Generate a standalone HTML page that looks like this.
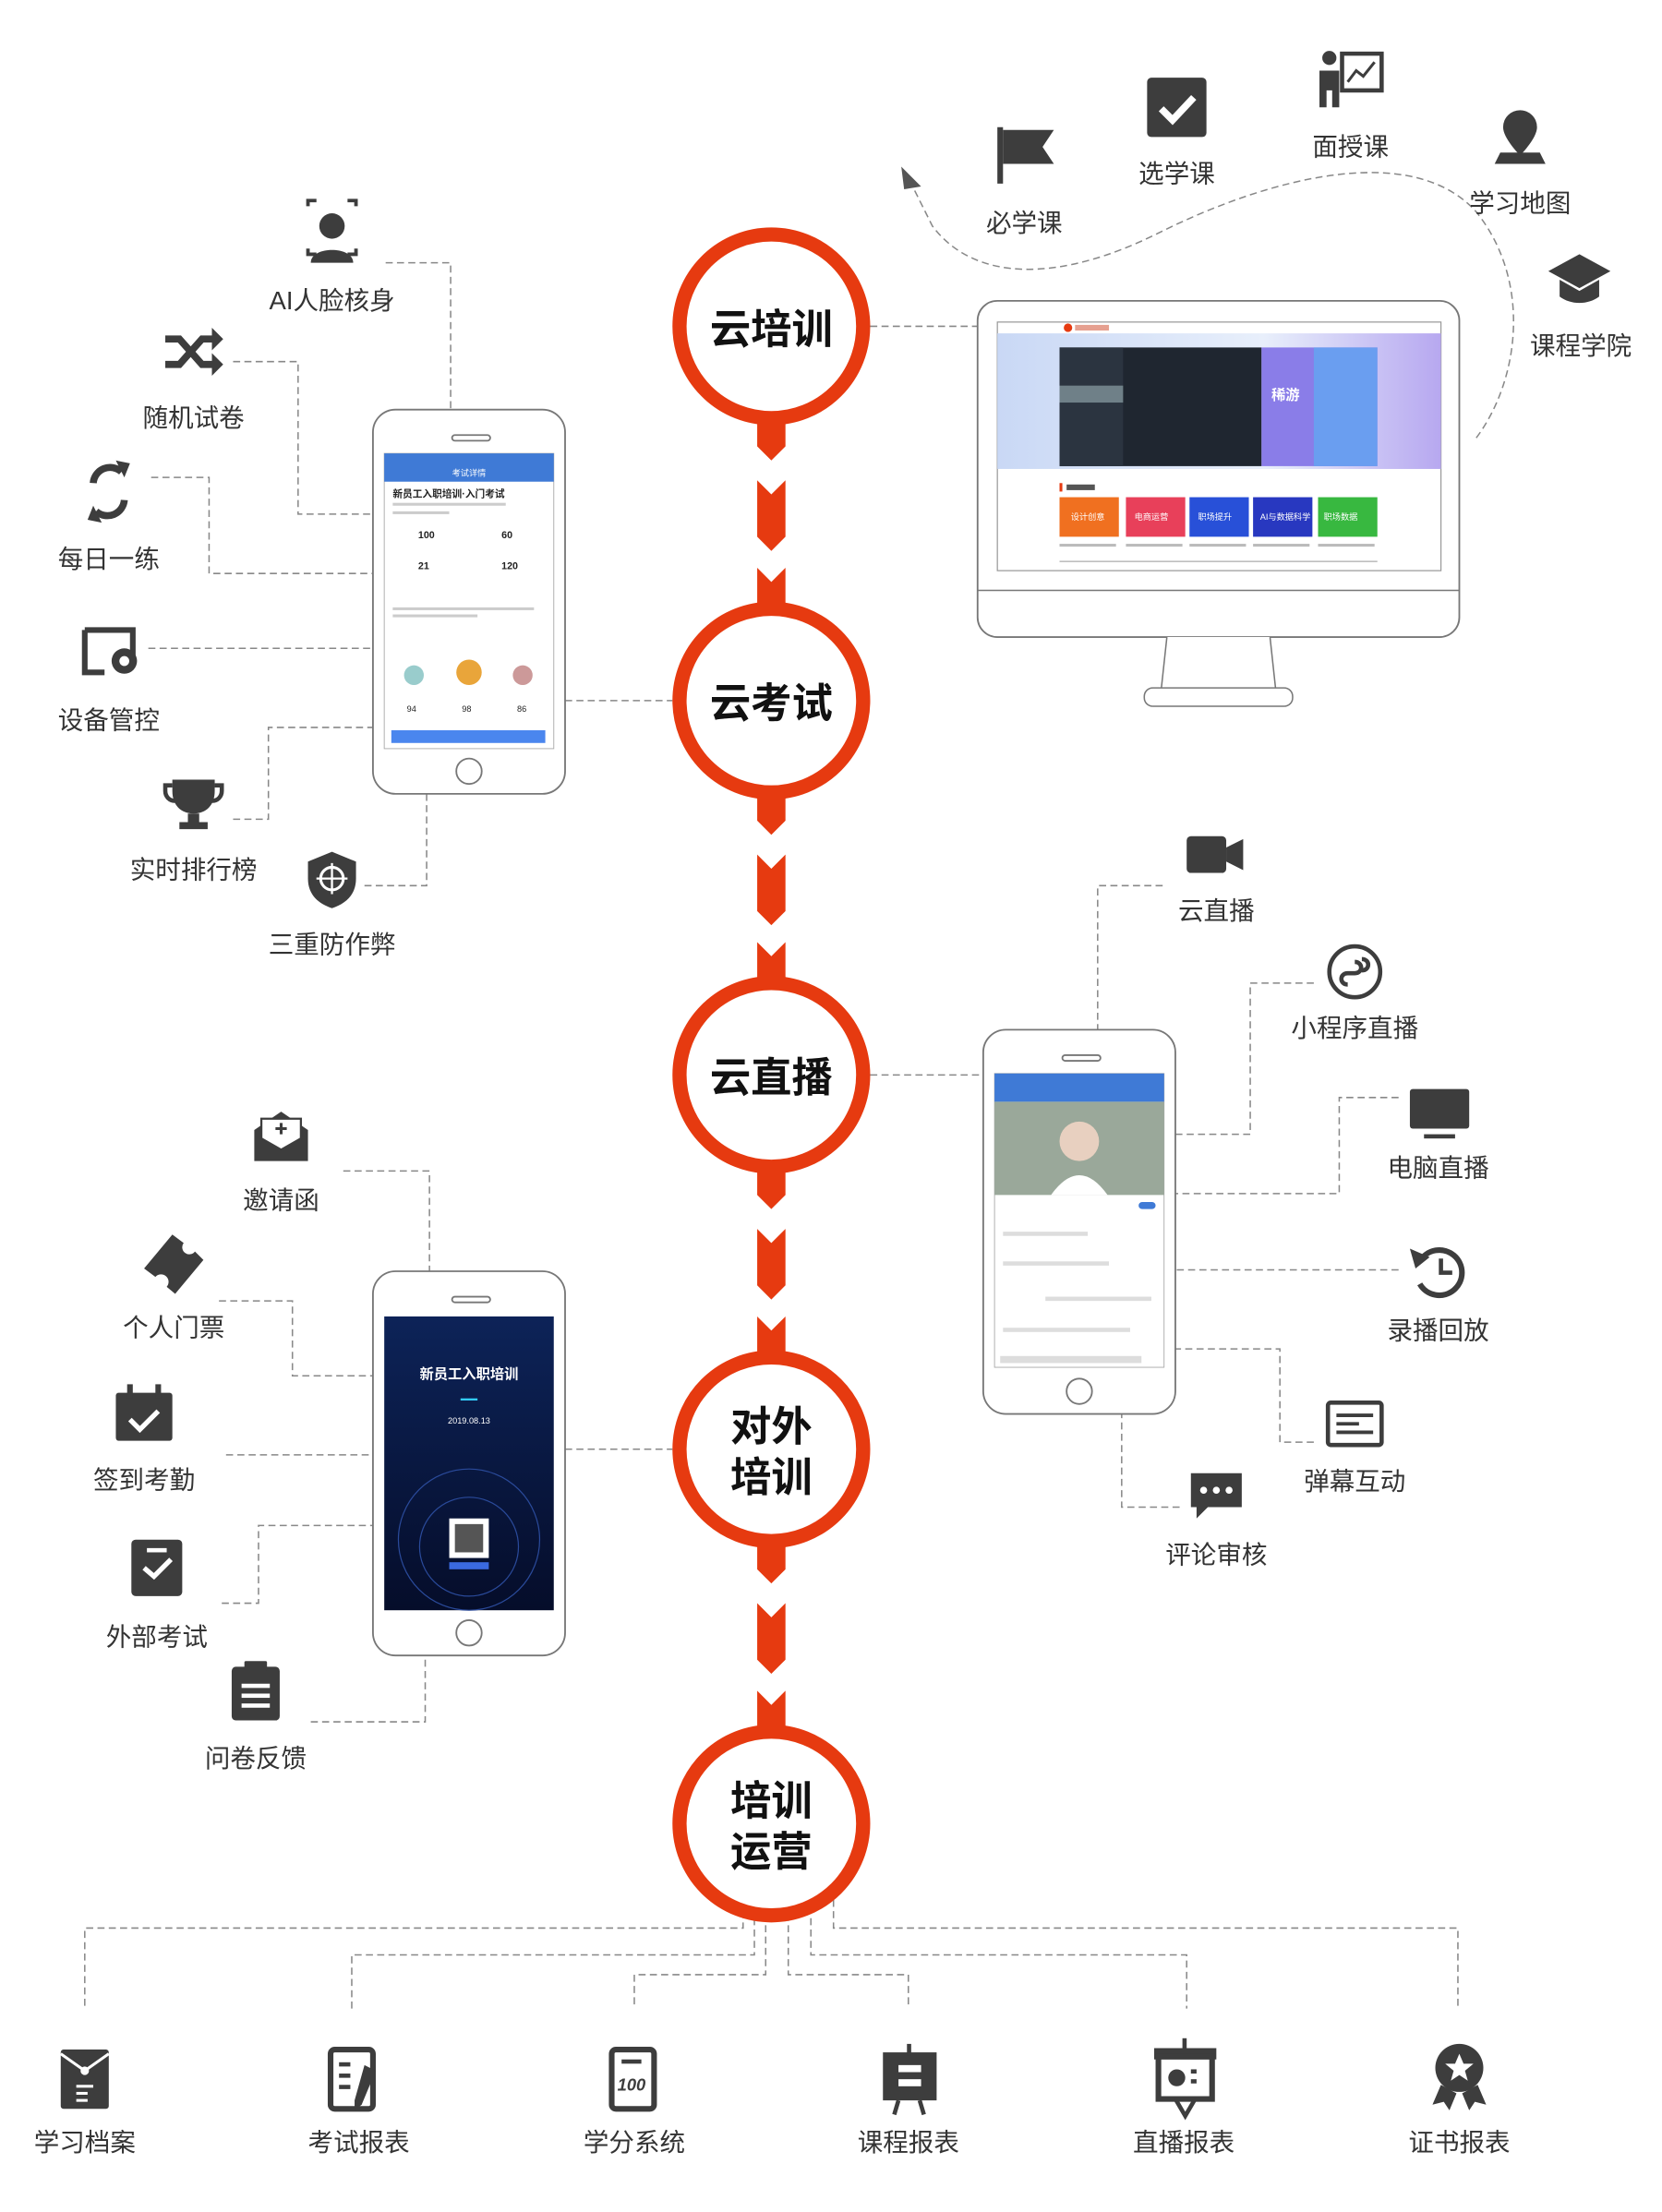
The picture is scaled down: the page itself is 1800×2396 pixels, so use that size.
<!DOCTYPE html>
<html><head><meta charset="utf-8">
<style>
html,body{margin:0;padding:0;background:#fff;}
#root{position:relative;width:1800px;height:2396px;overflow:hidden;background:#fff;}
#s{position:absolute;left:0;top:0;width:1184px;height:1576px;transform:scale(1.530);transform-origin:0 0;font-family:"Liberation Sans","Noto Sans CJK SC",sans-serif;}
.l{position:absolute;font-size:18px;color:#333;white-space:nowrap;transform:translateX(-50%);line-height:20px;}
.c{position:absolute;font-weight:bold;font-size:29px;color:#111;text-align:center;line-height:36px;transform:translate(-50%,-50%);font-family:"Noto Sans CJK SC",sans-serif;}
</style></head><body><div id="root"><div id="s">
<svg width="1184" height="1576" style="position:absolute;left:0;top:0" xmlns="http://www.w3.org/2000/svg">
<g fill="none" stroke="#888" stroke-width="1" stroke-dasharray="5,3">
<path d="M616 231H692"/><path d="M400 496H476"/><path d="M616 761H696"/><path d="M400 1026H476"/>
<path d="M273 186H319V290"/><path d="M165 256H211V364H264"/><path d="M107 338H148V406H264"/><path d="M105 459H264"/><path d="M165 580H190V515H264"/><path d="M258 627H302V562"/>
<path d="M823 627H777V729"/><path d="M930 696H885V803H832"/><path d="M990 777H948V845H832"/><path d="M990 899H832"/><path d="M930 1021H906V955H832"/><path d="M835 1067H794V1001"/>
<path d="M243 829H304V900"/><path d="M155 921H207V974H264"/><path d="M160 1030H264"/><path d="M157 1135H183V1080H264"/><path d="M220 1219H301V1172"/>
<path d="M526 1345V1365H60V1422"/><path d="M590 1345V1365H1032V1422"/>
<path d="M534 1350V1384H249V1422"/><path d="M574 1350V1384H840V1422"/>
<path d="M542 1355V1398H449V1422"/><path d="M558 1355V1398H643V1422"/>
<path d="M1045 310C1075 270 1085 200 1045 150C1000 100 900 125 820 165C750 200 690 200 660 160L645 130"/>
</g>
<polygon points="638,118 652,132 640,134" fill="#555"/>
<g fill="#e63a10">
<polygon points="536,296 556,296 556,316 546,326 536,316"/><polygon points="536,340 546,350 556,340 556,380 546,390 536,380"/><polygon points="536,402 546,412 556,402 556,432 536,432"/>
<polygon points="536,561 556,561 556,581 546,591 536,581"/><polygon points="536,605 546,615 556,605 556,645 546,655 536,645"/><polygon points="536,667 546,677 556,667 556,697 536,697"/>
<polygon points="536,826 556,826 556,846 546,856 536,846"/><polygon points="536,870 546,880 556,870 556,910 546,920 536,910"/><polygon points="536,932 546,942 556,932 556,962 536,962"/>
<polygon points="536,1091 556,1091 556,1111 546,1121 536,1111"/><polygon points="536,1135 546,1145 556,1135 556,1175 546,1185 536,1175"/><polygon points="536,1197 546,1207 556,1197 556,1227 536,1227"/>
</g>
<g fill="#fff" stroke="#e63a10" stroke-width="10">
<circle cx="546" cy="231" r="65"/><circle cx="546" cy="496" r="65"/><circle cx="546" cy="761" r="65"/><circle cx="546" cy="1026" r="65"/><circle cx="546" cy="1291" r="65"/>
</g>
<rect x="692" y="213" width="341" height="238" rx="14" fill="#fff" stroke="#777" stroke-width="1.2"/>
<line x1="692" y1="418" x2="1033" y2="418" stroke="#777"/>
<rect x="706" y="228" width="314" height="176" fill="#fff" stroke="#999" stroke-width=".8"/>
<path d="M826 451L822 488H903L899 451" fill="#fff" stroke="#777"/>
<rect x="810" y="487" width="105" height="13" rx="6" fill="#fff" stroke="#777"/>
<defs><linearGradient id="bn" x1="0" y1="0" x2="1" y2="0"><stop offset="0" stop-color="#c9d8f5"/><stop offset=".6" stop-color="#e8effb"/><stop offset="1" stop-color="#b7a8f0"/></linearGradient>
<linearGradient id="dk" x1="0" y1="0" x2="0" y2="1"><stop offset="0" stop-color="#0d2358"/><stop offset="1" stop-color="#050d2a"/></linearGradient></defs>
<rect x="706" y="236" width="314" height="96" fill="url(#bn)"/>
<rect x="750" y="246" width="143" height="84" fill="#1f2630"/><rect x="750" y="246" width="45" height="84" fill="#2b3440"/><rect x="750" y="273" width="45" height="12" fill="#6f8088"/>
<rect x="893" y="246" width="82" height="84" fill="#8a7de8"/><rect x="930" y="246" width="45" height="84" fill="#6a9ef0"/>
<text x="900" y="283" font-size="10" fill="#fff" font-weight="bold">稀游</text>
<circle cx="756" cy="232" r="3" fill="#e63a10"/><rect x="761" y="230" width="24" height="4" fill="#e6a090"/>
<rect x="750" y="342" width="2" height="6" fill="#e63a10"/><rect x="755" y="343" width="20" height="4" fill="#555"/>
<rect x="750" y="352" width="42" height="28" fill="#f07020"/><rect x="797" y="352" width="42" height="28" fill="#e8405a"/><rect x="842" y="352" width="42" height="28" fill="#2850d8"/><rect x="887" y="352" width="42" height="28" fill="#2838c0"/><rect x="933" y="352" width="42" height="28" fill="#38b840"/>
<g fill="#fff" font-size="6"><text x="758" y="368">设计创意</text><text x="803" y="368">电商运营</text><text x="848" y="368">职场提升</text><text x="892" y="368">AI与数据科学</text><text x="937" y="368">职场数据</text></g>
<g fill="#bbb"><rect x="750" y="385" width="40" height="2"/><rect x="797" y="385" width="40" height="2"/><rect x="842" y="385" width="40" height="2"/><rect x="887" y="385" width="40" height="2"/><rect x="933" y="385" width="40" height="2"/><rect x="750" y="397" width="225" height="1"/></g>
<g fill="#fff" stroke="#777" stroke-width="1.2">
<rect x="264" y="290" width="136" height="272" rx="16"/><rect x="696" y="729" width="136" height="272" rx="16"/><rect x="264" y="900" width="136" height="272" rx="16"/>
<circle cx="332" cy="546" r="9"/><circle cx="764" cy="985" r="9"/><circle cx="332" cy="1156" r="9"/>
<rect x="320" y="308" width="27" height="4" rx="2"/><rect x="752" y="747" width="27" height="4" rx="2"/><rect x="320" y="918" width="27" height="4" rx="2"/>
</g>
<rect x="272" y="321" width="120" height="209" fill="#fff" stroke="#aaa" stroke-width=".6"/>
<rect x="272" y="321" width="120" height="20" fill="#3f7ad6"/>
<text x="320" y="337" font-size="6" fill="#fff">考试详情</text>
<text x="278" y="352" font-size="7" fill="#222" font-weight="bold">新员工入职培训·入门考试</text>
<g fill="#ccc"><rect x="278" y="356" width="80" height="2"/><rect x="278" y="362" width="40" height="2"/></g>
<g font-size="7" fill="#222" font-weight="bold"><text x="296" y="381">100</text><text x="355" y="381">60</text><text x="296" y="403">21</text><text x="355" y="403">120</text></g>
<g fill="#ccc"><rect x="278" y="430" width="100" height="2"/><rect x="278" y="435" width="60" height="2"/></g>
<circle cx="293" cy="478" r="7" fill="#9cc"/><circle cx="332" cy="476" r="9" fill="#e9a53a"/><circle cx="370" cy="478" r="7" fill="#c99"/>
<g font-size="6" fill="#222"><text x="288" y="504">94</text><text x="327" y="504">98</text><text x="366" y="504">86</text></g>
<rect x="277" y="517" width="109" height="9" fill="#4a86ee"/>
<rect x="704" y="760" width="120" height="208" fill="#fff" stroke="#aaa" stroke-width=".6"/>
<rect x="704" y="760" width="120" height="20" fill="#3f7ad6"/>
<rect x="704" y="780" width="120" height="66" fill="#9aa89a"/><circle cx="764" cy="808" r="14" fill="#e8d0c0"/><path d="M744 846Q764 818 784 846Z" fill="#fff"/>
<g fill="#ddd"><rect x="710" y="872" width="60" height="3"/><rect x="710" y="893" width="75" height="3"/><rect x="740" y="918" width="75" height="3"/><rect x="710" y="940" width="90" height="3"/><rect x="708" y="960" width="100" height="5"/></g>
<rect x="806" y="851" width="12" height="5" rx="2.5" fill="#3f7ad6"/>
<rect x="272" y="932" width="120" height="208" fill="url(#dk)"/>
<circle cx="332" cy="1090" r="50" fill="none" stroke="#2a4a9a" stroke-width=".8"/><circle cx="332" cy="1095" r="35" fill="none" stroke="#2a4a9a" stroke-width=".8"/>
<text x="332" y="976" font-size="10" fill="#fff" text-anchor="middle" font-weight="bold">新员工入职培训</text>
<text x="332" y="1008" font-size="6" fill="#fff" text-anchor="middle">2019.08.13</text>
<rect x="326" y="990" width="12" height="1.5" fill="#3cf"/>
<rect x="318" y="1075" width="28" height="28" fill="#fff"/><rect x="322" y="1079" width="20" height="20" fill="#555"/>
<rect x="318" y="1106" width="28" height="5" fill="#3a6ae0"/>
<g fill="#3d3d3d">
<path d="M706 90h4v40h-4z"/><path d="M710 92h36l-8 12 8 12h-36z"/>
<rect x="812" y="55" width="42" height="42" rx="3"/>
<circle cx="941" cy="41" r="5"/><path d="M934 50h14v26h-5v-12h-4v12h-5z"/><path d="M950 38h28v26h-28z" fill="none" stroke="#3d3d3d" stroke-width="3"/><path d="M954 58l6-8 5 4 8-10" fill="none" stroke="#3d3d3d" stroke-width="2"/>
<path d="M1076 78a12 12 0 0 1 12 12c0 8-12 20-12 20s-12-12-12-20a12 12 0 0 1 12-12z"/><path d="M1058 116h36l-4-8h-28z"/>
<path d="M1096 192l22-12 22 12-22 12z"/><path d="M1104 198v12c8 6 20 6 28 0v-12l-14 8z"/>
<circle cx="235" cy="160" r="9"/><path d="M220 186c0-12 30-12 30 0z"/><path d="M218 146v-4h6M252 146v-4h-6M218 176v4h6M252 176v4h-6" fill="none" stroke="#3d3d3d" stroke-width="2.5"/>
<path d="M117 240h10l16 18h10M117 258h10l16-18h10" fill="none" stroke="#3d3d3d" stroke-width="5"/><path d="M150 232l8 8-8 8zM150 250l8 8-8 8z"/>
<path d="M66 342a12 12 0 0 1 20-8M88 354a12 12 0 0 1-20 8" fill="none" stroke="#3d3d3d" stroke-width="5"/><path d="M82 326l10 2-4 10zM72 370l-10-2 4-10z"/>
<path d="M60 446h34v22M60 446v30h14" fill="none" stroke="#3d3d3d" stroke-width="4"/><circle cx="88" cy="468" r="9"/><circle cx="88" cy="468" r="3.5" fill="#fff"/>
<path d="M122 552h30v8c0 10-6 16-15 16s-15-6-15-16z"/><path d="M133 576h8v6h6v5h-20v-5h6z"/><path d="M122 556h-5v4c0 4 3 7 7 7M152 556h5v4c0 4-3 7-7 7" fill="none" stroke="#3d3d3d" stroke-width="3"/>
<path d="M235 603l17 7v12c0 12-8 18-17 21-9-3-17-9-17-21v-12z"/><circle cx="235" cy="622" r="8" fill="none" stroke="#fff" stroke-width="2"/><path d="M224 622h22M235 611v22" stroke="#fff" stroke-width="1.5"/>
<rect x="840" y="592" width="28" height="26" rx="3"/><path d="M868 600l12-6v22l-12-6z"/>
<circle cx="959" cy="688" r="18" fill="none" stroke="#3d3d3d" stroke-width="3"/><path d="M954 697c-6 0-6-8 0-8h5c6 0 6-8 0-8M964 679c6 0 6 8 0 8" fill="none" stroke="#3d3d3d" stroke-width="3"/>
<rect x="998" y="771" width="42" height="28" rx="2"/><rect x="1008" y="803" width="22" height="3"/>
<path d="M1005 893a16 16 0 1 1 0 16" fill="none" stroke="#3d3d3d" stroke-width="4"/><path d="M998 884l4 14 10-8z"/><path d="M1020 891v10h8" fill="none" stroke="#3d3d3d" stroke-width="3"/>
<rect x="940" y="993" width="38" height="30" rx="2" fill="none" stroke="#3d3d3d" stroke-width="3"/><path d="M946 1002h26M946 1008h16M946 1014h26" stroke="#3d3d3d" stroke-width="2.5"/>
<path d="M843 1043h36v24h-24l-8 8v-8h-4z"/><circle cx="852" cy="1055" r="2.5" fill="#fff"/><circle cx="861" cy="1055" r="2.5" fill="#fff"/><circle cx="870" cy="1055" r="2.5" fill="#fff"/>
<path d="M180 800l19-13 19 13v22h-38z"/><path d="M185 806v-14h28v14l-14 8z" fill="#fff" stroke="#3d3d3d" stroke-width="1.5"/><path d="M199 795v8M195 799h8" stroke="#3d3d3d" stroke-width="2"/>
<path d="M102 898l20-24 8 6a5 5 0 0 0 8 6l6 6-20 24-6-5a5 5 0 0 0-8-7z"/>
<rect x="82" y="986" width="40" height="34" rx="2"/><rect x="90" y="980" width="4" height="10"/><rect x="110" y="980" width="4" height="10"/><path d="M92 1005l7 7 13-13" fill="none" stroke="#fff" stroke-width="3.5"/>
<rect x="93" y="1090" width="36" height="40" rx="3"/><path d="M102 1110l7 6 12-12" fill="none" stroke="#fff" stroke-width="3.5"/><rect x="104" y="1096" width="14" height="3" fill="#fff"/>
<rect x="164" y="1180" width="34" height="38" rx="3"/><rect x="173" y="1176" width="16" height="7" rx="1"/><g fill="#fff"><rect x="171" y="1192" width="20" height="3"/><rect x="171" y="1199" width="20" height="3"/><rect x="171" y="1206" width="20" height="3"/></g>
<rect x="43" y="1451" width="34" height="42" rx="2"/><path d="M43 1454l17 12 17-12" fill="none" stroke="#fff" stroke-width="2"/><circle cx="60" cy="1466" r="3" fill="#fff"/><g fill="#fff"><rect x="54" y="1476" width="12" height="2"/><rect x="54" y="1481" width="8" height="2"/><rect x="54" y="1486" width="8" height="2"/></g>
<rect x="234" y="1451" width="30" height="42" rx="3" fill="none" stroke="#3d3d3d" stroke-width="4"/><g><rect x="240" y="1460" width="8" height="3"/><rect x="240" y="1468" width="8" height="3"/><rect x="240" y="1476" width="8" height="3"/></g><path d="M258 1462l8 4-10 24-5 4 0-7z"/>
<rect x="433" y="1451" width="30" height="42" rx="3" fill="none" stroke="#3d3d3d" stroke-width="4"/><rect x="440" y="1458" width="14" height="3"/><text x="437" y="1480" font-size="12" font-style="italic" font-weight="bold" fill="#3d3d3d">100</text>
<rect x="625" y="1453" width="38" height="34"/><rect x="642" y="1447" width="3" height="8"/><g fill="#fff"><rect x="636" y="1462" width="16" height="5"/><rect x="636" y="1472" width="16" height="5"/></g><path d="M636 1487l-3 10M651 1487l3 10" stroke="#3d3d3d" stroke-width="3"/>
<rect x="817" y="1450" width="44" height="8"/><rect x="837" y="1443" width="3" height="8"/><rect x="820" y="1456" width="38" height="30" fill="none" stroke="#3d3d3d" stroke-width="4"/><circle cx="833" cy="1471" r="6"/><g><rect x="843" y="1465" width="4" height="3"/><rect x="843" y="1472" width="4" height="3"/></g><path d="M832 1486l7 12 7-12" fill="none" stroke="#3d3d3d" stroke-width="3"/>
<circle cx="1033" cy="1464" r="17"/><path d="M1033 1454l3 7h7l-6 5 2 7-6-4-6 4 2-7-6-5h7z" fill="#fff"/><path d="M1020 1476l-6 14 8-2 4 6 5-12zM1046 1476l6 14-8-2-4 6-5-12z"/>
</g>
<path d="M822 77l8 8 15-16" fill="none" stroke="#fff" stroke-width="5"/>
</svg>
<div class="c" style="left:546px;top:231px">云培训</div>
<div class="c" style="left:546px;top:496px">云考试</div>
<div class="c" style="left:546px;top:761px">云直播</div>
<div class="c" style="left:546px;top:1026px">对外<br>培训</div>
<div class="c" style="left:546px;top:1291px">培训<br>运营</div>
<div class="l" style="left:725px;top:148px">必学课</div>
<div class="l" style="left:833px;top:113px">选学课</div>
<div class="l" style="left:956px;top:94px">面授课</div>
<div class="l" style="left:1076px;top:134px">学习地图</div>
<div class="l" style="left:1119px;top:235px">课程学院</div>
<div class="l" style="left:235px;top:203px">AI人脸核身</div>
<div class="l" style="left:137px;top:286px">随机试卷</div>
<div class="l" style="left:77px;top:386px">每日一练</div>
<div class="l" style="left:77px;top:500px">设备管控</div>
<div class="l" style="left:137px;top:606px">实时排行榜</div>
<div class="l" style="left:235px;top:659px">三重防作弊</div>
<div class="l" style="left:861px;top:635px">云直播</div>
<div class="l" style="left:959px;top:718px">小程序直播</div>
<div class="l" style="left:1018px;top:817px">电脑直播</div>
<div class="l" style="left:1018px;top:932px">录播回放</div>
<div class="l" style="left:959px;top:1039px">弹幕互动</div>
<div class="l" style="left:861px;top:1091px">评论审核</div>
<div class="l" style="left:199px;top:840px">邀请函</div>
<div class="l" style="left:123px;top:930px">个人门票</div>
<div class="l" style="left:102px;top:1038px">签到考勤</div>
<div class="l" style="left:111px;top:1149px">外部考试</div>
<div class="l" style="left:181px;top:1235px">问卷反馈</div>
<div class="l" style="left:60px;top:1507px">学习档案</div>
<div class="l" style="left:254px;top:1507px">考试报表</div>
<div class="l" style="left:449px;top:1507px">学分系统</div>
<div class="l" style="left:643px;top:1507px">课程报表</div>
<div class="l" style="left:838px;top:1507px">直播报表</div>
<div class="l" style="left:1033px;top:1507px">证书报表</div>
</div></div></body></html>
